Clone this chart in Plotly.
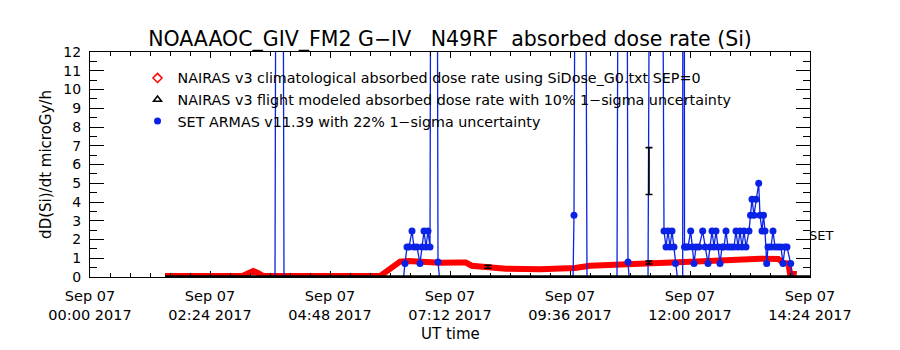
import plotly.graph_objects as go

DAY = "2017-09-07 "

# NAIRAS v3 climatological absorbed dose rate (red diamonds)
clim_times = ["01:30", "03:03", "03:10", "03:16", "03:22", "03:28", "05:48", "05:56",
              "06:04", "06:12", "06:22", "06:36", "07:00", "07:24", "07:31", "07:38",
              "07:48", "08:12", "08:19", "09:00", "09:30", "09:42", "10:00", "10:24",
              "11:00", "11:24", "12:00", "12:36", "13:00", "13:24", "13:46", "13:52",
              "13:58", "14:00", "14:08"]
clim_vals = [0.05, 0.05, 0.2, 0.32, 0.2, 0.05, 0.05, 0.3,
             0.6, 0.82, 0.85, 0.8, 0.76, 0.77, 0.77, 0.6,
             0.55, 0.5, 0.44, 0.42, 0.41, 0.48, 0.6, 0.66,
             0.7, 0.78, 0.82, 0.88, 0.94, 0.97, 0.96, 0.75,
             0.72, 0.2, 0.15]

# NAIRAS v3 flight modeled absorbed dose rate (black)
flight_times = ["01:30", "14:24"]
flight_vals = [0.0, 0.0]
flight_err_times = ["07:57:36", "11:10:48", "11:10:48"]
flight_err_vals = [0.55, 0.77, 5.65]
flight_err_sig = [0.08, 0.08, 1.25]

# SET ARMAS v11.39 (blue); -0.3 = below axis, 100 = off-scale spike
armas_times = ["03:42:00", "03:47:24", "03:52:48",
               "06:15:36", "06:18:00", "06:20:24", "06:22:48", "06:26:24", "06:28:48",
               "06:32:24", "06:36:00", "06:38:24", "06:40:48", "06:43:12", "06:45:36",
               "06:48:00", "06:52:48", "06:57:36", "07:00:00",
               "09:39:36", "09:40:48", "09:48:36", "09:56:24",
               "10:32:24", "10:39:00", "10:45:36", "10:47:24",
               "11:09:36", "11:19:12", "11:28:48", "11:31:12", "11:33:36", "11:36:00",
               "11:38:24", "11:40:48", "11:42:36", "11:45:36", "11:51:14", "11:52:12",
               "11:53:24", "11:55:12", "11:57:36", "12:00:50", "12:03:00", "12:04:48",
               "12:07:12", "12:10:48", "12:15:14", "12:18:00", "12:21:36", "12:24:00",
               "12:26:24", "12:28:48", "12:31:12", "12:33:36", "12:36:00", "12:38:24",
               "12:40:48", "12:43:12", "12:45:36", "12:49:12", "12:52:48", "12:55:12",
               "12:57:36", "13:00:00", "13:02:24", "13:04:48", "13:07:12", "13:10:48",
               "13:12:36", "13:14:24", "13:16:48", "13:19:12", "13:22:26", "13:24:00",
               "13:26:24", "13:28:12", "13:30:00", "13:32:02", "13:33:36", "13:37:12",
               "13:39:36", "13:42:00", "13:45:36", "13:49:12", "13:51:36", "13:54:00",
               "13:56:24", "14:00:50", "14:03:36"]
armas_vals = [-0.3, 100, -0.3,
              -0.3, 0.72, 1.6, 1.6, 2.45, 1.6,
              1.6, 0.72, 1.6, 2.45, 1.6, 2.45,
              1.6, 100, 0.8, -0.3,
              -0.3, 3.3, 100, -0.3,
              -0.3, 100, 0.8, -0.3,
              -0.3, 100, 2.45, 1.6, 2.45, 1.6,
              2.45, 1.6, 0.72, -0.3, -0.3, 100,
              1.6, 1.6, 1.6, 2.45, 1.6, 0.72,
              1.6, 1.6, 2.45, 1.6, 0.72, 1.6,
              2.45, 1.6, 2.45, 1.6, 0.72, 1.6,
              1.6, 2.45, 1.6, 1.6, 1.6, 2.45,
              1.6, 2.45, 1.6, 2.45, 1.6, 2.45,
              3.3, 4.15, 3.3, 4.15, 5.0, 3.3,
              2.45, 3.3, 2.45, 0.72, 1.6, 1.6,
              2.45, 1.6, 1.6, 1.6, 0.72, 1.6,
              1.6, 0.72, -0.3]

legend_names = [
    "NAIRAS v3 climatological absorbed dose rate using SiDose_G0.txt SEP=0",
    "NAIRAS v3 flight modeled absorbed dose rate with 10% 1\u2212sigma uncertainty",
    "SET ARMAS v11.39 with 22% 1\u2212sigma uncertainty",
]

title_text = "NOAAAOC_GIV_FM2 G\u2212IV\u00a0\u00a0\u00a0N49RF\u00a0\u00a0absorbed dose rate (Si)"
FONT = "DejaVu Sans"

def T(lst):
    return [DAY + t for t in lst]

fig = go.Figure()

# legend-only entries (symbols like the original legend)
fig.add_trace(go.Scatter(x=[None], y=[None], mode="markers", name=legend_names[0],
                         marker=dict(symbol="diamond-open", size=7, color="red",
                                     line=dict(width=1.5, color="red"))))
fig.add_trace(go.Scatter(x=[None], y=[None], mode="markers", name=legend_names[1],
                         marker=dict(symbol="triangle-up-open", size=7, color="black",
                                     line=dict(width=1.5, color="black"))))
fig.add_trace(go.Scatter(x=[None], y=[None], mode="markers", name=legend_names[2],
                         marker=dict(symbol="circle", size=7, color="#0a22e6")))

fig.add_trace(go.Scatter(x=T(clim_times), y=clim_vals, mode="lines", showlegend=False,
                         line=dict(color="red", width=6)))
fig.add_trace(go.Scatter(x=T(armas_times), y=armas_vals, mode="lines+markers",
                         showlegend=False,
                         line=dict(color="#0a22e6", width=1.3),
                         marker=dict(symbol="circle", size=7, color="#0a22e6")))
fig.add_trace(go.Scatter(x=T(flight_times), y=flight_vals, mode="lines", showlegend=False,
                         line=dict(color="black", width=3.5)))
fig.add_trace(go.Scatter(x=T(flight_err_times), y=flight_err_vals, mode="markers",
                         showlegend=False,
                         marker=dict(size=1, color="rgba(0,0,0,0)"),
                         error_y=dict(type="data", array=flight_err_sig, visible=True,
                                      color="black", thickness=1.6, width=3.5)))

fig.add_annotation(x=1, xref="paper", y=2.2, yref="y", text="SET", showarrow=False,
                   xanchor="left", xshift=-3, font=dict(family=FONT, size=13, color="black"))
fig.add_annotation(x=0.5, xref="paper", y=-0.252, yref="paper", text="UT time",
                   showarrow=False, xanchor="center", yanchor="middle",
                   font=dict(family=FONT, size=15, color="black"))

fig.update_layout(
    width=900, height=350,
    margin=dict(l=90, r=90, t=52, b=73),
    paper_bgcolor="white", plot_bgcolor="white",
    font=dict(family=FONT, color="black"),
    title=dict(text=title_text, x=0.5, xanchor="center", y=0.89, yanchor="middle",
               font=dict(family=FONT, size=20.5, color="black")),
    legend=dict(x=0.066, y=0.955, xanchor="left", yanchor="top",
                bgcolor="rgba(0,0,0,0)", font=dict(family=FONT, size=14.3, color="black"),
                itemwidth=30, tracegroupgap=0),
    showlegend=True,
)

fig.update_xaxes(
    type="date",
    range=[DAY + "00:00", DAY + "14:24"],
    tick0=DAY + "00:00", dtick=8640000,
    tickformat="%b %d<br>%H:%M %Y",
    ticks="inside", ticklen=6, tickcolor="black",
    minor=dict(dtick=1440000, ticks="inside", ticklen=4, tickcolor="black"),
    showline=True, linecolor="black", linewidth=1, mirror="allticks",
    showgrid=False, zeroline=False,
    ticklabelstandoff=6,
    tickfont=dict(family=FONT, size=14.5, color="black"),
)
fig.update_yaxes(
    range=[0, 12], dtick=1, tick0=0,
    ticks="inside", ticklen=14, tickcolor="black",
    minor=dict(dtick=0.5, ticks="inside", ticklen=7, tickcolor="black"),
    showline=True, linecolor="black", linewidth=1, mirror="allticks",
    showgrid=False, zeroline=False,
    ticklabelstandoff=5,
    tickfont=dict(family=FONT, size=14, color="black"),
    title=dict(text="dD(Si)/dt microGy/h", font=dict(family=FONT, size=15, color="black"),
               standoff=8),
)

fig.write_html("out.html")
